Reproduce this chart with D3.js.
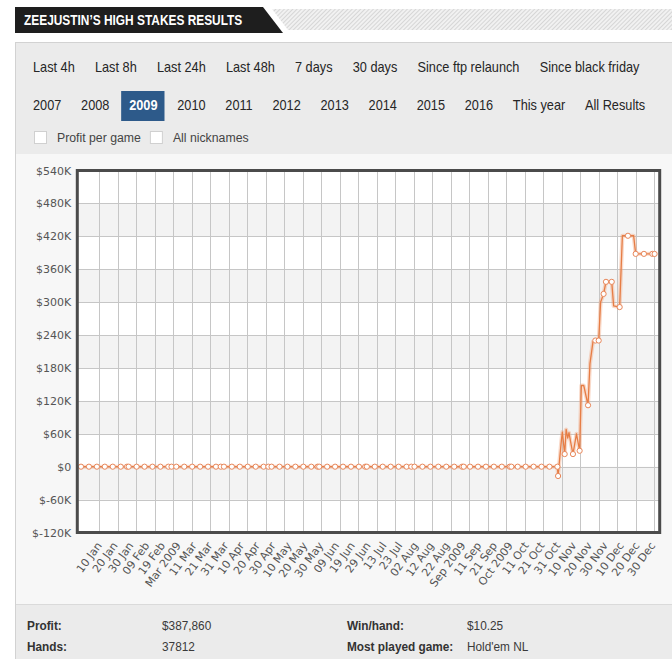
<!DOCTYPE html>
<html><head><meta charset="utf-8">
<script src="https://cdn.jsdelivr.net/npm/d3@7"></script>
<style>
html,body{margin:0;padding:0;background:#fff;overflow:hidden;}
svg{display:block;}
</style></head>
<body>
<svg id="page" width="672" height="659"></svg>
<script>
// ---------------- DATA ----------------
const title = "ZEEJUSTIN\u2019S HIGH STAKES RESULTS";
const rangeButtons = ["Last 4h","Last 8h","Last 24h","Last 48h","7 days","30 days","Since ftp relaunch","Since black friday"];
const yearButtons = ["2007","2008","2009","2010","2011","2012","2013","2014","2015","2016","This year","All Results"];
const selectedYear = "2009";
const checkboxLabels = ["Profit per game","All nicknames"];

const dates = [
  "2009-01-03","2009-01-08","2009-01-13","2009-01-18","2009-01-23","2009-01-28",
  "2009-02-01","2009-02-02","2009-02-07","2009-02-12","2009-02-17","2009-02-22","2009-02-27",
  "2009-03-01","2009-03-04","2009-03-09","2009-03-14","2009-03-19","2009-03-24","2009-03-29",
  "2009-04-01","2009-04-03","2009-04-08","2009-04-13","2009-04-18","2009-04-23","2009-04-28",
  "2009-05-01","2009-05-03","2009-05-08","2009-05-13","2009-05-18","2009-05-23","2009-05-28",
  "2009-06-01","2009-06-02","2009-06-07","2009-06-12","2009-06-17","2009-06-22","2009-06-27",
  "2009-07-01","2009-07-02","2009-07-07","2009-07-12","2009-07-17","2009-07-22","2009-07-27","2009-07-30",
  "2009-08-01","2009-08-06","2009-08-11","2009-08-16","2009-08-21","2009-08-26","2009-08-31",
  "2009-09-01","2009-09-05","2009-09-10","2009-09-15","2009-09-20","2009-09-25","2009-09-30",
  "2009-10-01","2009-10-05","2009-10-10","2009-10-15","2009-10-20","2009-10-25","2009-10-30",
  "2009-10-30 10","2009-11-01 12","2009-11-02 03","2009-11-03 14","2009-11-04 12","2009-11-05 12",
  "2009-11-06 07","2009-11-07 05","2009-11-08 19","2009-11-11 00","2009-11-13 00","2009-11-14 02",
  "2009-11-15 14","2009-11-18 07","2009-11-19 12","2009-11-21 10","2009-11-22 22","2009-11-25 00",
  "2009-11-26 05","2009-11-28 02","2009-11-29 14","2009-12-03 05","2009-12-04 10","2009-12-08 05",
  "2009-12-09 22","2009-12-13 10","2009-12-17 00","2009-12-18 07","2009-12-23 12","2009-12-28 19",
  "2009-12-30 05"
];
const profits = [
  0,0,0,0,0,0,
  0,0,0,0,0,0,0,
  0,0,0,0,0,0,0,
  0,0,0,0,0,0,0,
  0,0,0,0,0,0,0,
  0,0,0,0,0,0,0,
  0,0,0,0,0,0,0,0,
  0,0,0,0,0,0,0,
  0,0,0,0,0,0,0,
  0,0,0,0,0,0,0,
  -17000,48000,63000,23000,68000,52000,
  62000,47000,23000,60000,29000,148000,
  148000,112000,188000,228000,230000,230000,
  300000,315000,337000,337000,293000,291000,
  421000,421000,421000,388000,388000,388000,
  387860
];
// vertices of the line that show no marker in the original
const lineOnly = ["2009-11-01 12","2009-11-02 03","2009-11-04 12","2009-11-05 12","2009-11-06 07",
  "2009-11-07 05","2009-11-11 00","2009-11-14 02","2009-11-15 14","2009-11-19 12","2009-11-21 10",
  "2009-11-26 05","2009-12-04 10","2009-12-09 22","2009-12-17 00"];

const yTicks = [-120000,-60000,0,60000,120000,180000,240000,300000,360000,420000,480000,540000];
const xTickLabels = ["10 Jan","20 Jan","30 Jan","09 Feb","19 Feb","Mar 2009","11 Mar","21 Mar","31 Mar",
  "10 Apr","20 Apr","30 Apr","10 May","20 May","30 May","09 Jun","19 Jun","29 Jun","13 Jul","23 Jul",
  "02 Aug","12 Aug","22 Aug","Sep 2009","11 Sep","21 Sep","Oct 2009","11 Oct","21 Oct","31 Oct",
  "10 Nov","20 Nov","30 Nov","10 Dec","20 Dec","30 Dec"];
const verticalGridCount = 31;

const statLabels = ["Profit:","Hands:","Win/hand:","Most played game:"];
const statValues = ["$387,860","37812","$10.25","Hold'em NL"];

// ---------------- PAGE ----------------
const UIF = "'Liberation Sans',Arial,Helvetica,sans-serif";
const SX = 0.91; // horizontal squeeze to mimic a narrow face
const AXISF = "'DejaVu Sans',Verdana,sans-serif";
const svg = d3.select("#page");

function ntext(parent, x, y, str, size, fill, weight, sx) {
  const s = sx || SX;
  const t = parent.append("text")
    .attr("transform", `translate(${x},${y}) scale(${s},1)`)
    .attr("font-family", UIF).attr("font-size", size)
    .attr("font-weight", weight || "normal").attr("fill", fill).text(str);
  return {node: t, width: t.node().getComputedTextLength() * s};
}

const defs = svg.append("defs");
const pat = defs.append("pattern").attr("id","hatch").attr("patternUnits","userSpaceOnUse")
  .attr("width",3).attr("height",3).attr("patternTransform","rotate(45)");
pat.append("rect").attr("width",3).attr("height",3).attr("fill","#f1f1f1");
pat.append("line").attr("x1",0.5).attr("y1",0).attr("x2",0.5).attr("y2",3).attr("stroke","#d6d6d6").attr("stroke-width",1);

// header
svg.append("polygon").attr("points","272,9 672,9 672,30 288,30").attr("fill","url(#hatch)");
svg.append("polygon").attr("points","15,7 263,7 283,33 15,33").attr("fill","#1e1e1e");
ntext(svg, 24, 24.5, title, 14, "#fff", "bold", 0.85);

// panel
svg.append("rect").attr("x",15.5).attr("y",42.5).attr("width",670).attr("height",630)
  .attr("fill","#ebebeb").attr("stroke","#d2d2d2");
svg.append("rect").attr("x",16).attr("y",154).attr("width",656).attr("height",450).attr("fill","#f7f7f7");
svg.append("line").attr("x1",16).attr("x2",672).attr("y1",604.5).attr("y2",604.5).attr("stroke","#dadada");

// button rows
function buttonRow(labels, y, selected, gap) {
  let cx = 33;
  labels.forEach(l => {
    const g = svg.append("g");
    const sel = l === selected;
    const t = ntext(g, cx, y, l, 14, sel ? "#fff" : "#262626", sel ? "bold" : "normal");
    if (sel) {
      g.insert("rect","text").attr("x",cx-8).attr("y",y-19).attr("width",t.width+15).attr("height",30).attr("fill","#2d5a8a");
    }
    cx += t.width + gap;
  });
}
buttonRow(rangeButtons, 72, null, 20.2);
buttonRow(yearButtons, 110, selectedYear, 19.75);

// checkboxes
{
  let cx = 34;
  checkboxLabels.forEach(l => {
    svg.append("rect").attr("x",cx+0.5).attr("y",131.5).attr("width",12).attr("height",12)
      .attr("fill","#fff").attr("stroke","#d0d0d0");
    const t = ntext(svg, cx+23, 142, l, 13.5, "#444");
    cx += 23 + t.width + 9;
  });
}

// ---------------- CHART ----------------
const parse = d3.timeParse("%Y-%m-%d %H");
const toDate = s => parse(s.length === 10 ? s + " 00" : s);
const hidden = new Set(lineOnly);
const series = dates.map((s,i) => ({date: toDate(s), value: profits[i], marker: !hidden.has(s)}));

const plot = {left: 77.3, right: 659.7, top: 170.5, bottom: 532.5};
const x = d3.scaleTime()
  .domain([new Date(2008,11,31,16), new Date(2010,0,2,10)])
  .range([plot.left, plot.right]);
const y = d3.scaleLinear().domain([yTicks[0], yTicks[yTicks.length-1]]).range([plot.bottom, plot.top]);
const xLab = d3.scalePoint().domain(xTickLabels).range([95.5, 649]);
const xGrid = d3.scaleLinear().domain([0, verticalGridCount-1]).range([99.3, 654.3]);

const chart = svg.append("g");
// alternating bands
d3.pairs(yTicks).forEach((p,i) => {
  chart.append("rect").attr("x",plot.left).attr("width",plot.right-plot.left)
    .attr("y",y(p[1])).attr("height",y(p[0])-y(p[1]))
    .attr("fill", i % 2 === 1 ? "#f3f3f3" : "#ffffff");
});
// horizontal grid
chart.selectAll(".hg").data(yTicks).join("line")
  .attr("x1",plot.left).attr("x2",plot.right)
  .attr("y1",d=>Math.round(y(d))+0.5).attr("y2",d=>Math.round(y(d))+0.5)
  .attr("stroke","#c6c6c6").attr("stroke-width",1);
// vertical grid
chart.selectAll(".vg").data(d3.range(verticalGridCount)).join("line")
  .attr("x1",d=>Math.round(xGrid(d))+0.5).attr("x2",d=>Math.round(xGrid(d))+0.5)
  .attr("y1",plot.top).attr("y2",plot.bottom)
  .attr("stroke","#c6c6c6").attr("stroke-width",1);

// y axis
const yAxis = d3.axisLeft(y).tickValues(yTicks).tickSize(0).tickPadding(5)
  .tickFormat(v => v === 0 ? "$0" : "$" + (v/1000) + "K");
const yg = chart.append("g").attr("transform",`translate(${plot.left-1},0)`).call(yAxis);
yg.select(".domain").remove();
yg.selectAll("text").attr("font-family",AXISF).attr("font-size",11).attr("fill","#555");

// x axis labels
const xAxis = d3.axisBottom(xLab).tickSize(0).tickPadding(0);
const xg = chart.append("g").attr("transform",`translate(0,${plot.bottom+8.5})`).call(xAxis);
xg.select(".domain").remove();
xg.selectAll("text").attr("font-family",AXISF).attr("font-size",11).attr("fill","#555")
  .attr("text-anchor","end").attr("dy","0.71em").attr("y",0)
  .attr("transform","rotate(-54)");

// line
const line = d3.line().x(d=>x(d.date)).y(d=>y(d.value));
chart.append("path").datum(series).attr("d",line).attr("fill","none")
  .attr("stroke","#f0a27a").attr("stroke-opacity",0.4).attr("stroke-width",4)
  .attr("stroke-linejoin","round");
chart.append("path").datum(series).attr("d",line).attr("fill","none")
  .attr("stroke","#e67d45").attr("stroke-width",1.3).attr("stroke-linejoin","round");
chart.selectAll(".pt").data(series.filter(d=>d.marker)).join("circle")
  .attr("cx",d=>x(d.date)).attr("cy",d=>y(d.value)).attr("r",2.6)
  .attr("fill","#fff").attr("stroke","#e8875a").attr("stroke-width",1);

// border
chart.append("rect").attr("x",plot.left).attr("y",plot.top)
  .attr("width",plot.right-plot.left).attr("height",plot.bottom-plot.top)
  .attr("fill","none").attr("stroke","#4b4b4b").attr("stroke-width",3);

// ---------------- STATS ----------------
const statCols = [27, 162, 347, 467];
const statRows = [629.5, 650.5];
statLabels.forEach((l,i) => {
  const col = i < 2 ? 0 : 2, row = i % 2;
  ntext(svg, statCols[col], statRows[row], l, 13, "#333", "bold");
  ntext(svg, statCols[col+1], statRows[row], statValues[i], 13, "#3a3a3a");
});
</script>
</body></html>
